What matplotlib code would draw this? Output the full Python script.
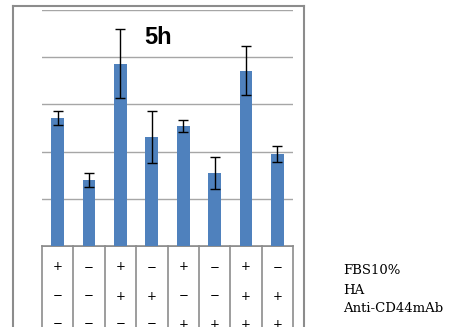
import matplotlib
matplotlib.use("Agg")
import matplotlib.pyplot as plt

# Data
values = [2.71, 1.40, 3.86, 2.31, 2.54, 1.55, 3.71, 1.95]
errors = [0.15, 0.15, 0.73, 0.55, 0.13, 0.34, 0.52, 0.17]
row_fbs = ["+", "−", "+", "−", "+", "−", "+", "−"]
row_ha = ["−", "−", "+", "+", "−", "−", "+", "+"]
row_ab = ["−", "−", "−", "−", "+", "+", "+", "+"]
row_labels = ["FBS10%", "HA", "Anti-CD44mAb"]
title = "5h"

W, H = 459, 327
fig = plt.figure(figsize=(W / 100, H / 100), dpi=100)

def fx(px):
    return px / W

def fy(py):
    return 1 - py / H

# outer frame
frame_col = "#8c8c8c"
fig.add_artist(plt.Line2D([fx(13), fx(13)], [fy(6), fy(340)], color=frame_col, lw=1.5))
fig.add_artist(plt.Line2D([fx(13), fx(304)], [fy(6), fy(6)], color=frame_col, lw=1.5))
fig.add_artist(plt.Line2D([fx(304), fx(304)], [fy(6), fy(340)], color=frame_col, lw=1.5))

# main axes
L, R, T, B = 42, 293, 10, 246
ax = fig.add_axes([fx(L), fy(B), fx(R) - fx(L), fy(T) - fy(B)])
x = list(range(len(values)))
ax.bar(x, values, width=0.41, color="#4F81BD", zorder=3)
ax.errorbar(x, values, yerr=errors, fmt="none", ecolor="black", elinewidth=1,
            capsize=3.3, capthick=1, zorder=4)
ax.set_xlim(-0.5, len(values) - 0.5)
ax.set_ylim(0, 5)
ax.set_yticks([1, 2, 3, 4, 5])
ax.yaxis.grid(True, color="#a6a6a6", lw=1)
ax.set_axisbelow(True)
ax.tick_params(left=False, bottom=False, labelleft=False, labelbottom=False)
for s in ["left", "right", "top"]:
    ax.spines[s].set_visible(False)
ax.spines["bottom"].set_color("#8c8c8c")
ax.spines["bottom"].set_linewidth(1.2)

fig.text(fx(158), fy(37), title, ha="center", va="center", fontsize=17,
         fontweight="bold", family="Liberation Sans")

# table axes
tab = fig.add_axes([fx(L), fy(345), fx(R) - fx(L), fy(B) - fy(345)])
tab.set_xlim(-0.5, len(values) - 0.5)
tab.set_ylim(99, 0)
tab.axis("off")
for i in range(len(values) + 1):
    tab.plot([i - 0.5, i - 0.5], [0, 99], color="#8c8c8c", lw=1.2, clip_on=False)
tab.plot([-0.5, len(values) - 0.5], [0, 0], color="#8c8c8c", lw=1.2)
for rowy, row in zip([21, 50, 78], [row_fbs, row_ha, row_ab]):
    for i, s in enumerate(row):
        tab.text(i, rowy, s, ha="center", va="center", fontsize=8.5,
                 family="DejaVu Sans")

for py, lab in zip([271, 290, 308], row_labels):
    fig.text(fx(343), fy(py), lab, ha="left", va="center", fontsize=9.5,
             family="DejaVu Serif")

fig.savefig("out.png", dpi=100)
